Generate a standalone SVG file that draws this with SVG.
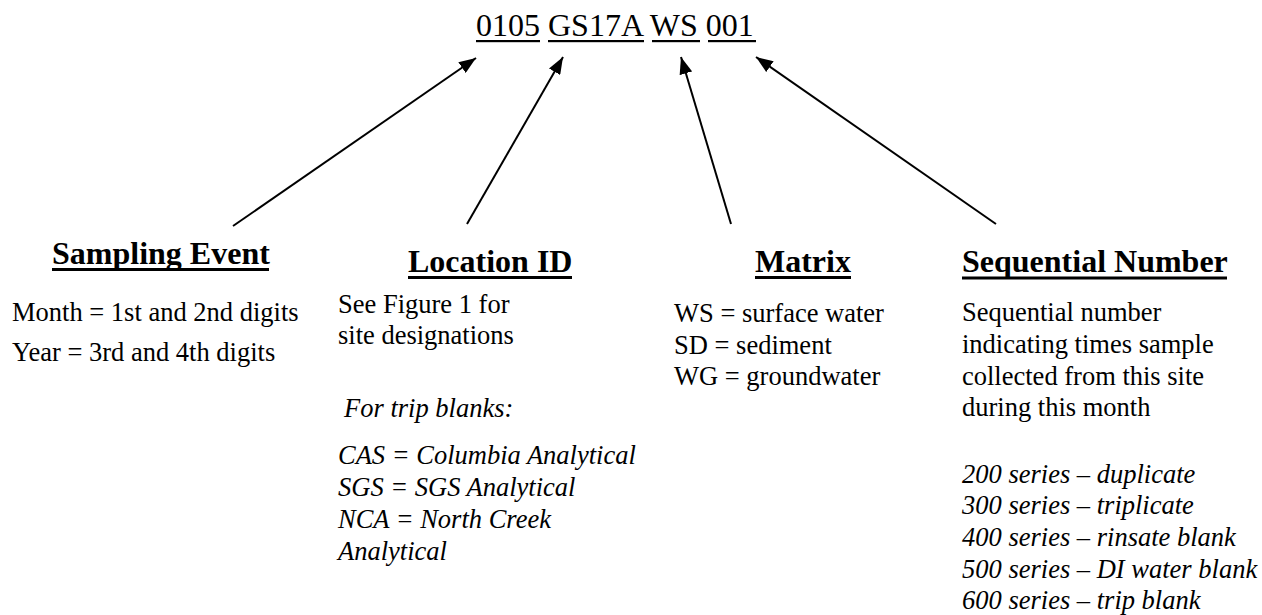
<svg xmlns="http://www.w3.org/2000/svg" width="1262" height="615" viewBox="0 0 1262 615">
<style>
text{font-family:"Liberation Serif","Times New Roman",serif;fill:#000}
.title{font-size:32px}
.head{font-size:32px;font-weight:bold}
.body{font-size:26.5px}
.it{font-size:26.5px;font-style:italic}
.ul{fill:#000}
.conn line{stroke:#000;stroke-width:2;fill:none}
</style>
<defs>
<marker id="ah" markerWidth="17" markerHeight="13" refX="17" refY="6.5" orient="auto" markerUnits="userSpaceOnUse">
<path d="M0,0 L17,6.5 L0,13 z" fill="#000"/>
</marker>
</defs>
<rect width="1262" height="615" fill="#fff"/>
<g id="code">
<text class="title" x="476" y="36">0105 GS17A WS 001</text>
<rect class="ul" x="476" y="40" width="64" height="2.2"/>
<rect class="ul" x="548" y="40" width="96" height="2.2"/>
<rect class="ul" x="652" y="40" width="48" height="2.2"/>
<rect class="ul" x="708" y="40" width="48" height="2.2"/>
</g>
<g class="conn" id="connectors">
<line x1="233" y1="226" x2="476" y2="58" marker-end="url(#ah)"/>
<line x1="467" y1="224" x2="563" y2="57" marker-end="url(#ah)"/>
<line x1="731" y1="224" x2="681" y2="57" marker-end="url(#ah)"/>
<line x1="996" y1="224" x2="756" y2="57" marker-end="url(#ah)"/>
</g>
<g id="sampling-event">
<text class="head" x="52" y="264">Sampling Event</text>
<rect class="ul" x="52" y="268" width="217" height="3"/>
<text class="body" x="12" y="321">Month = 1st and 2nd digits</text>
<text class="body" x="12" y="361">Year = 3rd and 4th digits</text>
</g>
<g id="location-id">
<text class="head" x="408" y="272">Location ID</text>
<rect class="ul" x="408" y="276" width="164" height="3"/>
<text class="body" x="338" y="313">See Figure 1 for</text>
<text class="body" x="338" y="344">site designations</text>
<text class="it" x="344" y="417">For trip blanks:</text>
<text class="it" x="338" y="464">CAS = Columbia Analytical</text>
<text class="it" x="338" y="496">SGS = SGS Analytical</text>
<text class="it" x="338" y="528">NCA = North Creek</text>
<text class="it" x="338" y="560">Analytical</text>
</g>
<g id="matrix">
<text class="head" x="755" y="272">Matrix</text>
<rect class="ul" x="755" y="276" width="96" height="3"/>
<text class="body" x="674" y="321.5">WS = surface water</text>
<text class="body" x="674" y="353.5">SD = sediment</text>
<text class="body" x="674" y="385">WG = groundwater</text>
</g>
<g id="sequential-number">
<text class="head" x="962" y="272">Sequential Number</text>
<rect class="ul" x="962" y="276.5" width="265" height="3"/>
<text class="body" x="962" y="321">Sequential number</text>
<text class="body" x="962" y="353">indicating times sample</text>
<text class="body" x="962" y="384.5">collected from this site</text>
<text class="body" x="962" y="416">during this month</text>
<text class="it" x="962" y="482.5">200 series – duplicate</text>
<text class="it" x="962" y="514">300 series – triplicate</text>
<text class="it" x="962" y="546">400 series – rinsate blank</text>
<text class="it" x="962" y="577.5">500 series – DI water blank</text>
<text class="it" x="962" y="609">600 series – trip blank</text>
</g>
</svg>
